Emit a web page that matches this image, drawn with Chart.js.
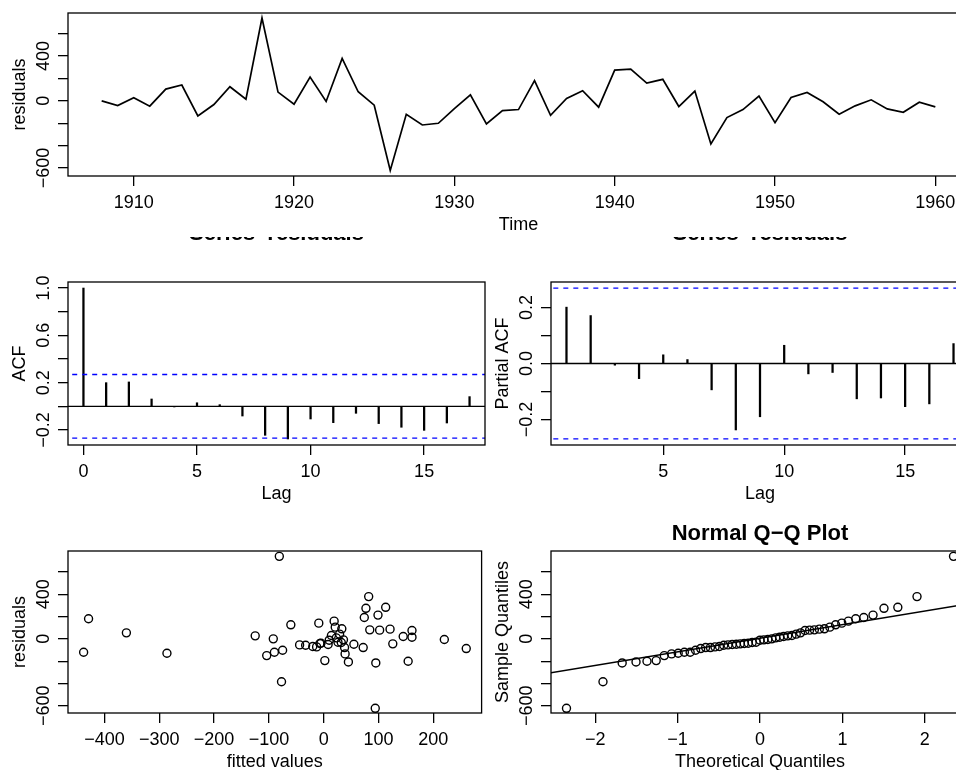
<!DOCTYPE html>
<html>
<head>
<meta charset="utf-8">
<title>Residual diagnostics</title>
<script src="https://cdn.jsdelivr.net/npm/chart.js@4.4.1/dist/chart.umd.min.js"></script>
<style>
    html, body { margin: 0; padding: 0; background: #fff; }
    body { width: 956px; height: 770px; overflow: hidden; position: relative; }
    canvas { position: absolute; }
</style>
</head>
<body>
<canvas id="tsChart" width="1000" height="237" style="left:0;top:0"></canvas>
<canvas id="acfChart" width="487" height="275" style="left:0;top:237px"></canvas>
<canvas id="pacfChart" width="520" height="275" style="left:483px;top:237px"></canvas>
<canvas id="fitChart" width="487" height="290" style="left:0;top:500px"></canvas>
<canvas id="qqChart" width="520" height="290" style="left:483px;top:500px"></canvas>
<script>

// ---- data ----
const years = [1908, 1909, 1910, 1911, 1912, 1913, 1914, 1915, 1916, 1917,
    1918, 1919, 1920, 1921, 1922, 1923, 1924, 1925, 1926, 1927,
    1928, 1929, 1930, 1931, 1932, 1933, 1934, 1935, 1936, 1937,
    1938, 1939, 1940, 1941, 1942, 1943, 1944, 1945, 1946, 1947,
    1948, 1949, 1950, 1951, 1952, 1953, 1954, 1955, 1956, 1957,
    1958, 1959, 1960];

const residuals = [0, -42, 27, -48, 105, 141, -135, -33, 126, 15,
    740, 78, -30, 213, -6, 379, 81, -39, -623, -120,
    -216, -201, -69, 54, -207, -87, -78, 180, -129, 21,
    90, -57, 274, 283, 159, 192, -51, 87, -385, -150,
    -78, 42, -195, 30, 75, -9, -120, -45, 9, -72,
    -102, -12, -54];

const fitted = [-92, -7, -125, 55, 21, -9, 39, 32, -60, 161,
    -81, 102, 26, 99, 220, 82, 84, -5, 94, -438,
    95, 154, -20, -360, 45, 260, 38, -429, -286, 145,
    33, -33, 77, 113, 19, 74, 8, 121, -77, -104,
    72, 29, 2, 14, 161, 36, -90, 126, 23, -13,
    -75, 10, -44];

const acfLags = [0, 1, 2, 3, 4, 5, 6, 7, 8, 9, 10, 11, 12, 13, 14, 15, 16, 17];
const acfValues = [1.0, 0.2, 0.206, 0.062, -0.005, 0.03, 0.014, -0.082, -0.245, -0.276,
    -0.107, -0.138, -0.059, -0.146, -0.177, -0.203, -0.141, 0.082];

const pacfLags = [1, 2, 3, 4, 5, 6, 7, 8, 9, 10, 11, 12, 13, 14, 15, 16, 17];
const pacfValues = [0.201, 0.171, -0.006, -0.054, 0.031, 0.014, -0.094, -0.237, -0.19,
    0.065, -0.037, -0.032, -0.126, -0.123, -0.154, -0.144, 0.071];

const confLimit = 0.269;

const theoQuantiles = [-2.349, -1.906, -1.673, -1.505, -1.372, -1.260, -1.162, -1.073, -0.993,
    -0.918, -0.848, -0.782, -0.720, -0.660, -0.602, -0.546, -0.492, -0.440, -0.388, -0.337,
    -0.287, -0.239, -0.191, -0.143, -0.095, -0.047, 0, 0.047, 0.095, 0.143, 0.191, 0.239,
    0.287, 0.337, 0.388, 0.440, 0.492, 0.546, 0.602, 0.660, 0.720, 0.782, 0.848, 0.918,
    0.993, 1.073, 1.162, 1.260, 1.372, 1.505, 1.673, 1.906, 2.349];

// reference line through the quartiles
const qqLineX = [-3, 3];
const qqLineY = [-361, 371];

// tick positions and which of them carry a label
const residTicks = [-600, -400, -200, 0, 200, 400, 600];
const residLabels = [-600, 0, 400];
const yearTicks = [1910, 1920, 1930, 1940, 1950, 1960];
const acfTicks = [-0.2, 0, 0.2, 0.4, 0.6, 0.8, 1.0];
const acfLabels = [-0.2, 0.2, 0.6, 1.0];
const pacfTicks = [-0.2, -0.1, 0, 0.1, 0.2];
const pacfLabels = [-0.2, 0, 0.2];
const acfLagTicks = [0, 5, 10, 15];
const pacfLagTicks = [5, 10, 15];
const fittedTicks = [-400, -300, -200, -100, 0, 100, 200];
const qqTicks = [-2, -1, 0, 1, 2];


const FONT = '"Liberation Sans", Arial, Helvetica, sans-serif';
Chart.defaults.font.family = FONT;
Chart.defaults.font.size = 18;
Chart.defaults.color = '#000';

const minus = (v, dec) => (v < 0 ? '\u2212' : '') + Math.abs(v).toFixed(dec);

// R style box, rotated y labels and main title
const rPlot = {
    id: 'rPlot',
    afterDraw(chart, args, opts) {
        const { ctx, chartArea: a } = chart;
        const yScale = chart.scales.y;
        ctx.save();
        ctx.strokeStyle = '#000';
        ctx.lineWidth = 1.3;
        ctx.strokeRect(a.left, a.top, a.right - a.left, a.bottom - a.top);

        ctx.fillStyle = '#000';
        ctx.font = `18px ${FONT}`;
        ctx.textAlign = 'center';
        ctx.textBaseline = 'middle';
        opts.yLabels.forEach(v => {
            ctx.save();
            ctx.translate(a.left - 24, yScale.getPixelForValue(v));
            ctx.rotate(-Math.PI / 2);
            ctx.fillText(minus(v, opts.dec), 0, 0);
            ctx.restore();
        });

        if (opts.main) {
            ctx.font = `bold 22px ${FONT}`;
            ctx.textBaseline = 'alphabetic';
            ctx.fillText(opts.main, (a.left + a.right) / 2, opts.mainY);
        }
        ctx.restore();
    }
};

const gridStyle = { offset: false, drawOnChartArea: false, drawTicks: true, tickLength: 10, color: '#000', lineWidth: 1.3 };

function xAxis(min, max, ticks, dec, height, title, titlePad) {
    return {
        type: 'linear', min: min, max: max, offset: false,
        afterBuildTicks: s => { s.ticks = ticks.map(v => ({ value: v })); },
        afterFit: s => { s.height = height; },
        ticks: { padding: 6, maxRotation: 0, autoSkip: false, callback: v => minus(v, dec) },
        grid: gridStyle,
        border: { display: false },
        title: { display: true, text: title, padding: { top: 0, bottom: titlePad } }
    };
}

function yAxis(min, max, ticks, title) {
    return {
        type: 'linear', min: min, max: max,
        afterBuildTicks: s => { s.ticks = ticks.map(v => ({ value: v })); },
        afterFit: s => { s.width = 68; },
        ticks: { display: false },
        grid: gridStyle,
        border: { display: false },
        title: { display: true, text: title, padding: { top: 9, bottom: 0 } }
    };
}

function basePlugins(rOpts) {
    return { legend: { display: false }, tooltip: { enabled: false }, rPlot: rOpts };
}

function hline(y, color, dash) {
    return {
        type: 'line',
        data: [{ x: -100, y: y }, { x: 100, y: y }],
        borderColor: color, borderWidth: 1.3, borderDash: dash,
        pointRadius: 0, order: 0
    };
}


// Residuals over time
new Chart(document.getElementById('tsChart'), {
    type: 'line',
    data: {
        datasets: [{
            data: years.map((yr, i) => ({ x: yr, y: residuals[i] })),
            borderColor: '#000', borderWidth: 1.7,
            pointRadius: 0, tension: 0
        }]
    },
    options: {
        responsive: false, animation: false, events: [],
        layout: { padding: { top: 13, right: 31, left: 0, bottom: 0 } },
        scales: {
            x: xAxis(1905.9, 1962.1, yearTicks, 0, 61, 'Time', 1.2),
            y: yAxis(-672, 785, residTicks, 'residuals')
        },
        plugins: basePlugins({ yLabels: residLabels, dec: 0 })
    },
    plugins: [rPlot]
});


// ACF
new Chart(document.getElementById('acfChart'), {
    type: 'bar',
    data: {
        datasets: [
            {
                data: acfLags.map((lag, i) => ({ x: lag, y: acfValues[i] })),
                backgroundColor: '#000', barThickness: 1.6, order: 1
            },
            hline(0, '#000', []),
            hline(confLimit, '#0000ff', [5, 5]),
            hline(-confLimit, '#0000ff', [5, 5])
        ]
    },
    options: {
        responsive: false, animation: false, events: [],
        layout: { padding: { top: 45, right: 2, left: 0, bottom: 0 } },
        scales: {
            x: xAxis(-0.68, 17.68, acfLagTicks, 0, 67, 'Lag', 7.2),
            y: yAxis(-0.327, 1.051, acfTicks, 'ACF')
        },
        plugins: basePlugins({ yLabels: acfLabels, dec: 1, main: 'Series  residuals', mainY: 3 })
    },
    plugins: [rPlot]
});


// PACF
new Chart(document.getElementById('pacfChart'), {
    type: 'bar',
    data: {
        datasets: [
            {
                data: pacfLags.map((lag, i) => ({ x: lag, y: pacfValues[i] })),
                backgroundColor: '#000', barThickness: 1.6, order: 1
            },
            hline(0, '#000', []),
            hline(confLimit, '#0000ff', [5, 5]),
            hline(-confLimit, '#0000ff', [5, 5])
        ]
    },
    options: {
        responsive: false, animation: false, events: [],
        layout: { padding: { top: 45, right: 34, left: 0, bottom: 0 } },
        scales: {
            x: xAxis(0.36, 17.64, pacfLagTicks, 0, 67, 'Lag', 7.2),
            y: yAxis(-0.2907, 0.2907, pacfTicks, 'Partial ACF')
        },
        plugins: basePlugins({ yLabels: pacfLabels, dec: 1, main: 'Series  residuals', mainY: 3 })
    },
    plugins: [rPlot]
});


// Residuals against fitted values
new Chart(document.getElementById('fitChart'), {
    type: 'scatter',
    data: {
        datasets: [{
            data: fitted.map((f, i) => ({ x: f, y: residuals[i] })),
            pointStyle: 'circle', pointRadius: 4,
            backgroundColor: 'rgba(0,0,0,0)', borderColor: '#000', borderWidth: 1.4
        }]
    },
    options: {
        responsive: false, animation: false, events: [],
        layout: { padding: { top: 51, right: 2, left: 0, bottom: 0 } },
        scales: {
            x: xAxis(-466.5, 288, fittedTicks, 0, 77, 'fitted values', 17.2),
            y: yAxis(-665, 788, residTicks, 'residuals')
        },
        plugins: basePlugins({ yLabels: residLabels, dec: 0 })
    },
    plugins: [rPlot]
});


// Normal Q-Q plot
const sampleQuantiles = residuals.slice().sort((a, b) => a - b);

new Chart(document.getElementById('qqChart'), {
    type: 'scatter',
    data: {
        datasets: [
            {
                data: theoQuantiles.map((q, i) => ({ x: q, y: sampleQuantiles[i] })),
                pointStyle: 'circle', pointRadius: 4,
                backgroundColor: 'rgba(0,0,0,0)', borderColor: '#000', borderWidth: 1.4
            },
            {
                type: 'line',
                data: qqLineX.map((q, i) => ({ x: q, y: qqLineY[i] })),
                borderColor: '#000', borderWidth: 1.4, pointRadius: 0
            }
        ]
    },
    options: {
        responsive: false, animation: false, events: [],
        layout: { padding: { top: 51, right: 34, left: 0, bottom: 0 } },
        scales: {
            x: xAxis(-2.537, 2.537, qqTicks, 0, 77, 'Theoretical Quantiles', 17.2),
            y: yAxis(-665, 788, residTicks, 'Sample Quantiles')
        },
        plugins: basePlugins({ yLabels: residLabels, dec: 0, main: 'Normal Q\u2212Q Plot', mainY: 40 })
    },
    plugins: [rPlot]
});

</script>
</body>
</html>
